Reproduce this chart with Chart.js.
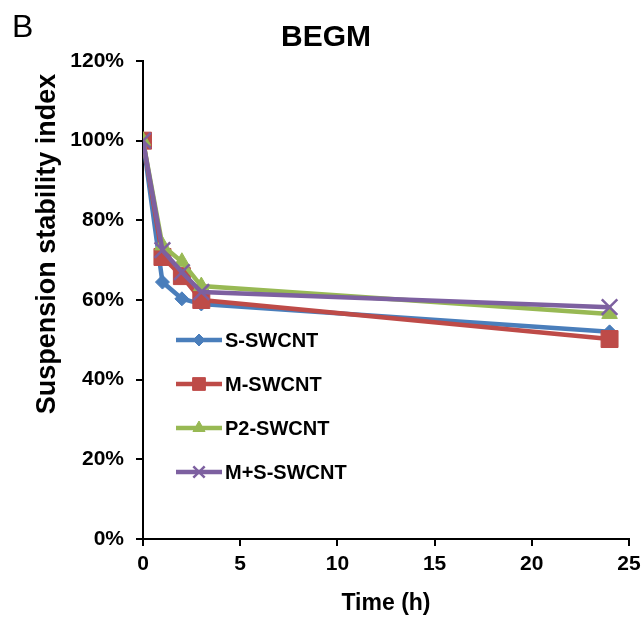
<!DOCTYPE html>
<html>
<head>
<meta charset="utf-8">
<title>BEGM</title>
<script src="https://cdn.jsdelivr.net/npm/chart.js@4.4.1/dist/chart.umd.min.js"></script>
<style>
  html, body { margin: 0; padding: 0; background: #fff; }
  #wrap { width: 644px; height: 618px; }
</style>
</head>
<body>
<div id="wrap"><canvas id="chart" width="644" height="618"></canvas></div>
<script>
// ─── Data ────────────────────────────────────────────────────────────────────
const hours    = [0, 1, 2, 3, 24];
const sSwcnt   = [100, 64.5, 60.3, 59.0, 52.0];
const mSwcnt   = [100, 70.8, 66.0, 60.0, 50.2];
const p2Swcnt  = [100, 73.7, 69.6, 63.5, 56.5];
const msSwcnt  = [100, 72.5, 67.0, 62.0, 58.2];
const seriesNames = ['S-SWCNT', 'M-SWCNT', 'P2-SWCNT', 'M+S-SWCNT'];
const xTicks = [0, 5, 10, 15, 20, 25];
const yTicks = [0, 20, 40, 60, 80, 100, 120];

const FONT = "'Liberation Sans', Arial, sans-serif";

// marker style per series: colour, pointStyle, radius, legend radius
const styles = [
  { color: '#4A7EBB', point: 'rectRot',  r: 7,  lr: 6 },
  { color: '#BE4B48', point: 'rect',     r: 12, lr: 9 },
  { color: '#98B954', point: 'triangle', r: 9,  lr: 7 },
  { color: '#7D60A0', point: 'crossRot', r: 11, lr: 8 },
];
const values = [sSwcnt, mSwcnt, p2Swcnt, msSwcnt];

const datasets = values.map((vals, i) => ({
  label: seriesNames[i],
  data: hours.map((h, j) => ({ x: h, y: vals[j] })),
  borderColor: styles[i].color,
  backgroundColor: styles[i].color,
  borderWidth: 4.5,
  pointStyle: styles[i].point,
  pointRadius: styles[i].r,
  pointBorderWidth: styles[i].point === 'crossRot' ? 2.5 : 1,
  pointBackgroundColor: styles[i].color,
  pointBorderColor: styles[i].color,
  tension: 0,
  order: 4 - i,   // later series drawn on top
}));

// ─── Panel letter, y title and in-plot legend ────────────────────────────────
const panelDecor = {
  id: 'panelDecor',
  afterDraw(chart) {
    const ctx = chart.ctx;
    const area = chart.chartArea;
    ctx.save();
    ctx.fillStyle = '#000';
    ctx.font = `32px ${FONT}`;
    ctx.textAlign = 'left';
    ctx.textBaseline = 'middle';
    ctx.fillText('B', 12, 28);

    // y axis title sits above the plot's vertical centre
    ctx.save();
    ctx.translate(48, 244);
    ctx.rotate(-Math.PI / 2);
    ctx.textAlign = 'center';
    ctx.font = `bold 27px ${FONT}`;
    ctx.fillText('Suspension stability index', 0, 0);
    ctx.restore();

    const x0 = area.left + 33, x1 = x0 + 46;
    let y = 340;
    styles.forEach((s, i) => {
      ctx.strokeStyle = s.color;
      ctx.fillStyle = s.color;
      ctx.lineWidth = 4.5;
      ctx.beginPath();
      ctx.moveTo(x0, y);
      ctx.lineTo(x1, y);
      ctx.stroke();
      ctx.lineWidth = s.point === 'crossRot' ? 2.5 : 1;
      Chart.helpers.drawPoint(ctx, { pointStyle: s.point, radius: s.lr, rotation: 0, borderWidth: ctx.lineWidth }, (x0 + x1) / 2, y);
      ctx.fillStyle = '#000';
      ctx.font = `bold 20px ${FONT}`;
      ctx.textAlign = 'left';
      ctx.textBaseline = 'middle';
      ctx.fillText(seriesNames[i], x1 + 3, y + 1);
      y += 44;
    });
    ctx.restore();
  }
};

// ─── Chart ───────────────────────────────────────────────────────────────────
new Chart(document.getElementById('chart'), {
  type: 'line',
  data: { datasets },
  plugins: [panelDecor],
  options: {
    responsive: false,
    animation: false,
    layout: { padding: { left: 23, right: 15, top: 0, bottom: 1 } },
    plugins: {
      legend: { display: false },
      tooltip: { enabled: false },
      title: {
        display: true,
        text: 'BEGM',
        color: '#000',
        font: { family: FONT, size: 30, weight: 'bold' },
        padding: { top: 20, bottom: 5 },
      },
    },
    scales: {
      x: {
        type: 'linear',
        min: 0, max: 25,
        afterBuildTicks: s => { s.ticks = xTicks.map(v => ({ value: v })); },
        afterFit: s => { s.height = 78; s.paddingRight = 0; },
        grid: { drawOnChartArea: false, drawTicks: true, tickLength: 7, color: '#000', lineWidth: 2 },
        border: { color: '#000', width: 2 },
        ticks: { color: '#000', padding: 6, font: { family: FONT, size: 21, weight: 'bold' } },
        title: {
          display: true, text: 'Time (h)', color: '#000',
          padding: { top: 0, bottom: 0 },
          font: { family: FONT, size: 23, weight: 'bold' },
        },
      },
      y: {
        min: 0, max: 120,
        afterBuildTicks: s => { s.ticks = yTicks.map(v => ({ value: v })); },
        afterFit: s => { s.width = 120; },
        grid: { drawOnChartArea: false, drawTicks: true, tickLength: 7, color: '#000', lineWidth: 2 },
        border: { color: '#000', width: 2 },
        ticks: { color: '#000', padding: 12, font: { family: FONT, size: 21, weight: 'bold' }, callback: v => v + '%' },
      },
    },
  },
});
</script>
</body>
</html>
